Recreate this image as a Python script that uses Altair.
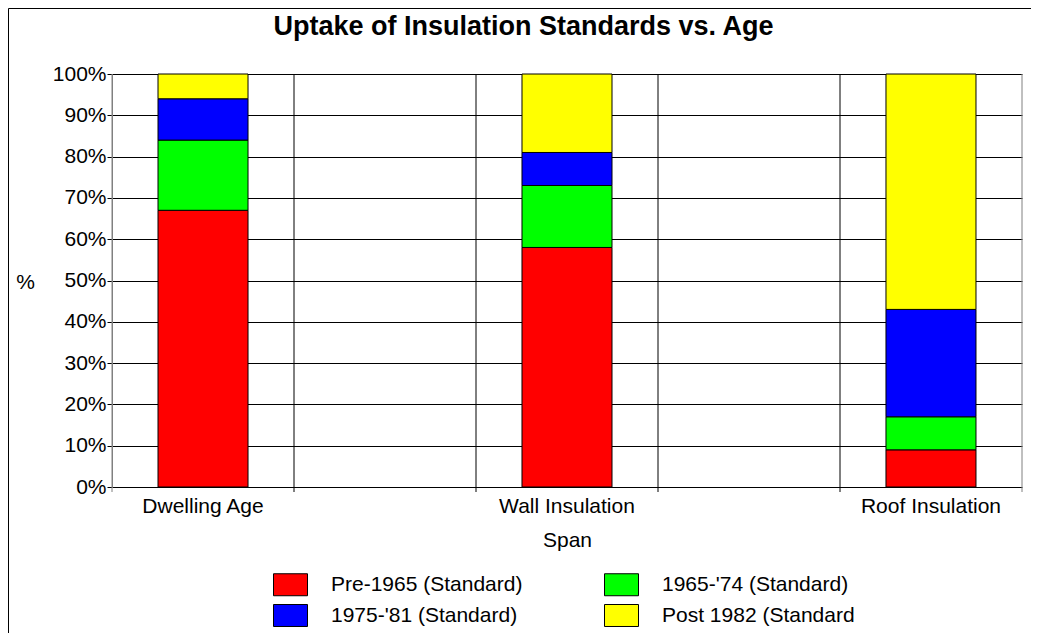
import altair as alt
import pandas as pd

# ---- data ----
title_text = "Uptake of Insulation Standards vs. Age"
categories = ["Dwelling Age", "Wall Insulation", "Roof Insulation"]
series = ["Pre-1965 (Standard)", "1965-'74 (Standard)", "1975-'81 (Standard)", "Post 1982 (Standard"]
series_colors = ["#FF0000", "#00FF00", "#0000FF", "#FFFF00"]
pre_1965 = [67, 58, 9]
s1965_74 = [17, 15, 8]
s1975_81 = [10, 8, 26]
post_1982 = [6, 19, 57]
y_tick_values = [0.0, 0.1, 0.2, 0.3, 0.4, 0.5, 0.6, 0.7, 0.8, 0.9, 1.0]
x_grid_values = [0, 1, 2, 3, 4, 5]

FONT = "Liberation Sans"

rows = []
for si, (s, vals) in enumerate(zip(series, [pre_1965, s1965_74, s1975_81, post_1982])):
    for c, v in zip(categories, vals):
        rows.append({"category": c, "series": s, "stack_order": si, "value": v})
df = pd.DataFrame(rows)
grid_df = pd.DataFrame({"g": x_grid_values})

W, H = 910, 413

# outer frame (top and left edges visible in the reference)
frame_top = alt.Chart(alt.Data(values=[{}])).mark_rule(color="black", strokeWidth=1).encode(
    x=alt.value(-103.5), x2=alt.value(W + 20), y=alt.value(-65.5)
)
frame_left = alt.Chart(alt.Data(values=[{}])).mark_rule(color="black", strokeWidth=1).encode(
    x=alt.value(-103.5), y=alt.value(-65.5), y2=alt.value(H + 160)
)

# chart title
title = alt.Chart(alt.Data(values=[{"t": title_text}])).mark_text(
    font=FONT, fontSize=27, fontWeight="bold", color="black", align="center", baseline="alphabetic"
).encode(text="t:N", x=alt.value(411.5), y=alt.value(-39))

# vertical gridlines (with small ticks below the axis)
vgrid = alt.Chart(grid_df).mark_rule(strokeWidth=1).encode(
    x=alt.X("g:Q", scale=alt.Scale(domain=[0, 5], nice=False, zero=False), axis=None),
    y=alt.value(0),
    y2=alt.value(H + 5),
    color=alt.condition("datum.g % 5 == 0", alt.value("#808080"), alt.value("black")),
)

bars = alt.Chart(df).mark_bar(stroke="black", strokeWidth=1).encode(
    x=alt.X(
        "category:N",
        sort=categories,
        scale=alt.Scale(paddingInner=0.7527, paddingOuter=0.1264),
        axis=alt.Axis(
            title="Span",
            labelAngle=0,
            ticks=False,
            domain=False,
            grid=False,
            labelPadding=8,
            titlePadding=13,
        ),
    ),
    y=alt.Y(
        "value:Q",
        stack="normalize",
        scale=alt.Scale(domain=[0, 1]),
        axis=alt.Axis(
            values=y_tick_values,
            format=".0%",
            title="%",
            titleAngle=0,
            titleX=-87,
            titleY=208,
            titleAlign="center",
            titleBaseline="middle",
            grid=True,
            gridColor="black",
            gridWidth=1,
            domainColor="#808080",
            tickColor="black",
            tickSize=5,
            labelPadding=1,
        ),
    ),
    color=alt.Color(
        "series:N",
        sort=series,
        scale=alt.Scale(domain=series, range=series_colors),
        legend=alt.Legend(
            title=None,
            orient="none",
            direction="horizontal",
            legendX=161,
            legendY=493,
            columns=2,
            columnPadding=79,
            rowPadding=-5,
            symbolType="M-1,-0.647L1,-0.647L1,0.647L-1,0.647Z",
            symbolSize=1156,
            symbolStrokeColor="black",
            symbolStrokeWidth=1,
            labelFont=FONT,
            labelFontSize=21,
            labelColor="black",
            labelOffset=23,
            labelLimit=0,
            padding=0,
        ),
    ),
    order=alt.Order("stack_order:Q", sort="ascending"),
)

chart = (
    alt.layer(frame_top, frame_left, title, vgrid, bars)
    .resolve_scale(x="independent")
    .properties(
        width=W,
        height=H,
        autosize=alt.AutoSizeParams(type="none"),
        padding={"left": 104, "top": 66, "right": 9, "bottom": 146},
    )
    .configure_view(stroke=None)
    .configure_axis(
        labelFont=FONT,
        titleFont=FONT,
        labelFontSize=21,
        titleFontSize=21,
        labelColor="black",
        titleColor="black",
        titleFontWeight="normal",
    )
)

chart.save("out.html", embed_options={"renderer": "svg", "actions": False})
